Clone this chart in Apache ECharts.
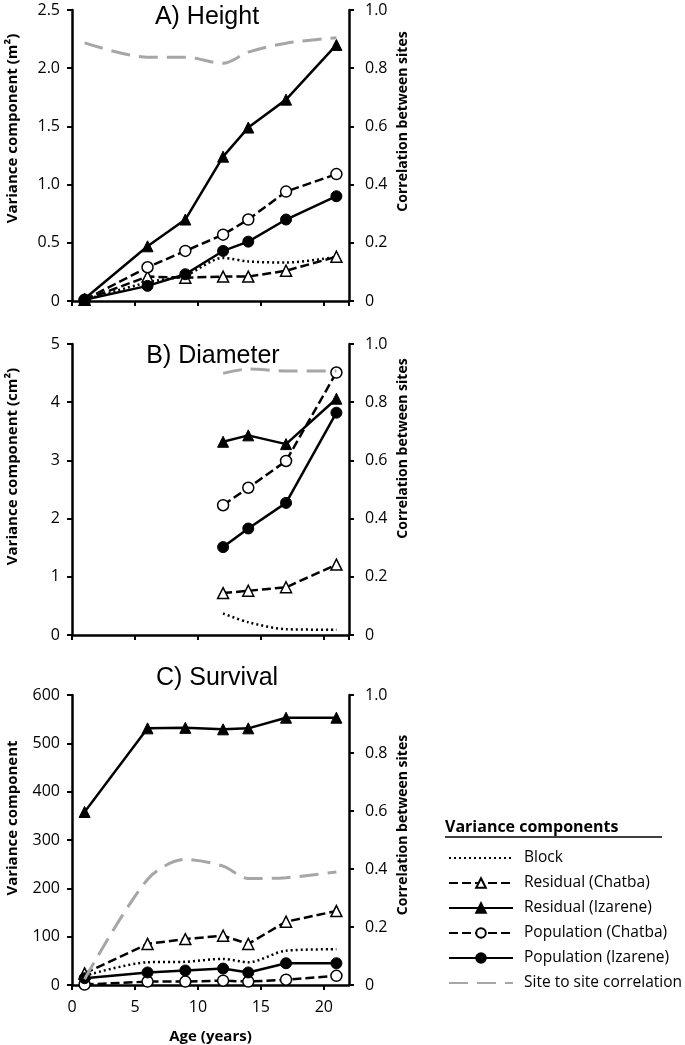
<!DOCTYPE html>
<html><head><meta charset="utf-8">
<script src="https://cdn.jsdelivr.net/npm/echarts@6/dist/echarts.min.js"></script>
<style>html,body{margin:0;padding:0;background:#fff;}#c{width:685px;height:1045px;}</style>
</head><body><div id="c"></div>
<script>
// ---- data ----
const ages = [1, 6, 9, 12, 14, 17, 21];
const agesB = [12, 14, 17, 21];
const seriesNames = ['Block', 'Residual (Chatba)', 'Residual (Izarene)', 'Population (Chatba)', 'Population (Izarene)', 'Site to site correlation'];
const panelTitles = ['A) Height', 'B) Diameter', 'C) Survival'];
const leftAxisNames = ['Variance component (m\u00B2)', 'Variance component (cm\u00B2)', 'Variance component'];
const rightAxisName = 'Correlation between sites';
const xAxisName = 'Age (years)';
const legendTitle = 'Variance components';

// Height (m2)
const heightBlock = [0.01, 0.16, 0.22, 0.37, 0.34, 0.33, 0.38];
const heightResChatba = [0.01, 0.21, 0.20, 0.21, 0.21, 0.26, 0.38];
const heightResIzarene = [0.02, 0.47, 0.70, 1.24, 1.49, 1.73, 2.20];
const heightPopChatba = [0.01, 0.29, 0.43, 0.57, 0.70, 0.94, 1.09];
const heightPopIzarene = [0.01, 0.13, 0.23, 0.43, 0.51, 0.70, 0.90];
const heightCorr = [0.887, 0.838, 0.838, 0.817, 0.855, 0.886, 0.905];

// Diameter (cm2)
const diamBlock = [0.37, 0.22, 0.10, 0.09];
const diamResChatba = [0.72, 0.76, 0.82, 1.21];
const diamResIzarene = [3.32, 3.43, 3.28, 4.06];
const diamPopChatba = [2.23, 2.53, 2.99, 4.51];
const diamPopIzarene = [1.51, 1.83, 2.27, 3.82];
const diamCorr = [0.899, 0.914, 0.907, 0.907];

// Survival
const survBlock = [19, 47, 48, 54, 47, 71, 74];
const survResChatba = [24, 85, 95, 102, 85, 131, 153];
const survResIzarene = [358, 531, 532, 529, 531, 553, 553];
const survPopChatba = [1, 7, 7, 9, 7, 11, 19];
const survPopIzarene = [14, 26, 30, 34, 26, 45, 45];
const survCorr = [0.02, 0.364, 0.433, 0.41, 0.367, 0.37, 0.39];

const leftTicks = [{min:0,max:2.5,interval:0.5,dec:1},{min:0,max:5,interval:1,dec:0},{min:0,max:600,interval:100,dec:0}];

// ---- chart ----
const pair = (xs, ys) => xs.map((x, i) => [x, ys[i]]);
const panels = [
  {x: ages, d: [heightBlock, heightResChatba, heightResIzarene, heightPopChatba, heightPopIzarene, heightCorr]},
  {x: agesB, d: [diamBlock, diamResChatba, diamResIzarene, diamPopChatba, diamPopIzarene, diamCorr]},
  {x: ages, d: [survBlock, survResChatba, survResIzarene, survPopChatba, survPopIzarene, survCorr]}
];
const gridTops = [10, 344, 695];
const gridH = 291;
const titleTops = [0, 339, 661];
const titleX = [202, 208, 212];
const leftNameShift = [27, 23, 22];
const rightNameShift = [34, 41, 15];

const tickFont = {fontFamily: 'Open Sans', fontSize: 16, color: '#000'};
const axisLine = {show: true, lineStyle: {color: '#000', width: 2.5}};
const axisTick = {show: true, inside: false, length: 5, lineStyle: {color: '#000', width: 2}};

const styles = [
  {lineStyle: {color: '#000', width: 2.5, type: [2, 3]}, symbol: 'none', smooth: 0.3, itemStyle: {color: '#000'}},
  {lineStyle: {color: '#000', width: 2.5, type: [9, 4]}, symbol: 'triangle', itemStyle: {color: '#fff', borderColor: '#000', borderWidth: 1.5}},
  {lineStyle: {color: '#000', width: 2.5}, symbol: 'triangle', itemStyle: {color: '#000', borderColor: '#000', borderWidth: 1}},
  {lineStyle: {color: '#000', width: 2.5, type: [9, 4]}, symbol: 'circle', itemStyle: {color: '#fff', borderColor: '#000', borderWidth: 1.5}},
  {lineStyle: {color: '#000', width: 2.5}, symbol: 'circle', itemStyle: {color: '#000', borderColor: '#000', borderWidth: 1}},
  {lineStyle: {color: '#a6a6a6', width: 3, type: [19, 9]}, symbol: 'none', smooth: 0.3, itemStyle: {color: '#a6a6a6'}}
];

const grid = [], xAxis = [], yAxis = [], series = [], title = [];
const nameStyle = (size, shift) => ({fontFamily: 'Open Sans', fontWeight: 'bold', fontSize: size, color: '#000', padding: [0, 0, 0, 2 * shift]});
panels.forEach((p, gi) => {
  grid.push({left: 72, width: 277, top: gridTops[gi], height: gridH});
  title.push({text: panelTitles[gi], left: titleX[gi], top: titleTops[gi], textAlign: 'center',
    textStyle: {fontFamily: 'Liberation Sans', fontSize: 25, fontWeight: 'normal', color: '#000'}});
  xAxis.push({type: 'value', gridIndex: gi, min: 0, max: 22, interval: 5,
    axisLine: axisLine, axisTick: axisTick, splitLine: {show: false},
    axisLabel: Object.assign({show: gi === 2, margin: 14, showMaxLabel: false}, tickFont),
    name: gi === 2 ? xAxisName : '', nameLocation: 'middle', nameGap: 44,
    nameTextStyle: {fontFamily: 'Open Sans', fontWeight: 'bold', fontSize: 15, color: '#000'}});
  const lt = leftTicks[gi];
  yAxis.push({type: 'value', gridIndex: gi, position: 'left', min: lt.min, max: lt.max, interval: lt.interval,
    axisLine: axisLine, axisTick: axisTick, splitLine: {show: false},
    axisLabel: Object.assign({margin: 12, formatter: v => v === 0 ? '0' : v.toFixed(lt.dec)}, tickFont),
    name: leftAxisNames[gi], nameLocation: 'middle', nameRotate: 90, nameGap: 52,
    nameTextStyle: nameStyle(15, leftNameShift[gi])});
  yAxis.push({type: 'value', gridIndex: gi, position: 'right', min: 0, max: 1, interval: 0.2,
    axisLine: axisLine, axisTick: axisTick, splitLine: {show: false},
    axisLabel: Object.assign({margin: 16, formatter: v => v === 0 ? '0' : v.toFixed(1)}, tickFont),
    name: rightAxisName, nameLocation: 'middle', nameRotate: 90, nameGap: 47,
    nameTextStyle: nameStyle(14, rightNameShift[gi])});
  p.d.forEach((vals, si) => {
    const st = styles[si];
    series.push(Object.assign({
      name: seriesNames[si], type: 'line', xAxisIndex: gi, yAxisIndex: gi * 2 + (si === 5 ? 1 : 0),
      data: pair(p.x, vals), symbolSize: 11, showSymbol: st.symbol !== 'none', animation: false,
      z: si === 5 ? 5 : 3, emphasis: {disabled: true}
    }, JSON.parse(JSON.stringify(st))));
  });
});

const legendData = seriesNames.map((n, i) => styles[i].symbol === 'none'
  ? {name: n, itemStyle: {opacity: 0}}
  : {name: n});

const chart = echarts.init(document.getElementById('c'), null, {renderer: 'canvas'});
chart.setOption({
  animation: false,
  backgroundColor: '#fff',
  title: title,
  grid: grid, xAxis: xAxis, yAxis: yAxis, series: series,
  legend: {
    orient: 'vertical', left: 443, top: 845, itemWidth: 64, itemHeight: 12, itemGap: 9,
    data: legendData, selectedMode: false,
    textStyle: {fontFamily: 'Open Sans', fontSize: 15.5, color: '#000', lineHeight: 16, padding: [0, 0, 0, 6]}
  },
  graphic: [
    {type: 'text', left: 445, top: 819, style: {text: legendTitle, fontFamily: 'Open Sans', fontWeight: 'bold', fontSize: 16, fill: '#000'}},
    {type: 'line', shape: {x1: 445, y1: 837, x2: 662, y2: 837}, style: {stroke: '#000', lineWidth: 1.5}}
  ]
});
</script></body></html>
